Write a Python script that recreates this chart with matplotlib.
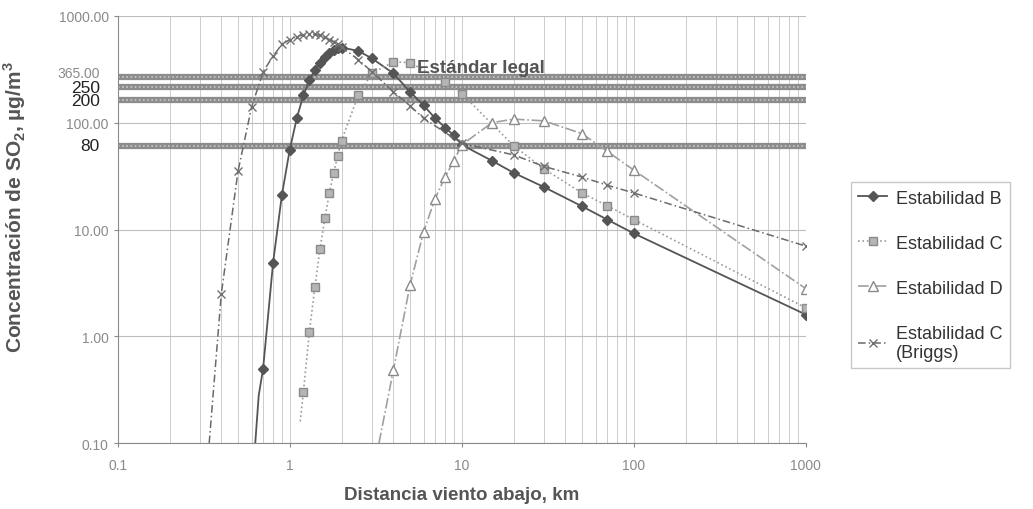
import matplotlib
matplotlib.use("Agg")
import matplotlib.pyplot as plt

plt.rcParams["font.family"] = ["Liberation Sans", "DejaVu Sans"]
plt.rcParams["mathtext.fontset"] = "custom"
plt.rcParams["mathtext.rm"] = "Liberation Sans"
plt.rcParams["mathtext.bf"] = "Liberation Sans:bold"

# Estabilidad B
x_b = [0.63, 0.66, 0.7, 0.8, 0.9, 1.0, 1.1, 1.2, 1.3, 1.4, 1.5, 1.6, 1.7, 1.8, 1.9, 2.0,
       2.5, 3, 4, 5, 6, 7, 8, 9, 10, 15, 20, 30, 50, 70, 100, 1000]
y_b = [0.1, 0.28, 0.5, 4.9, 21, 56, 111, 180, 250, 310, 360, 410, 450, 480, 500, 505,
       470, 400, 290, 195, 145, 110, 90, 76, 62, 44, 34, 25, 16.5, 12.4, 9.2, 1.6]

# Estabilidad C
x_c = [1.15, 1.2, 1.3, 1.4, 1.5, 1.6, 1.7, 1.8, 1.9, 2.0, 2.5, 3, 4, 5, 8, 10,
       20, 30, 50, 70, 100, 1000]
y_c = [0.16, 0.3, 1.1, 2.9, 6.6, 12.7, 22, 34, 49, 68, 180, 290, 370, 365, 240, 187,
       61, 37, 22, 16.7, 12.4, 1.85]

# Estabilidad D
x_d = [3.3, 4, 5, 6, 7, 8, 9, 10, 15, 20, 30, 50, 70, 100, 1000]
y_d = [0.1, 0.48, 3.0, 9.5, 19.5, 31, 44, 62, 100, 108, 104, 79, 54, 36, 2.8]

# Estabilidad C (Briggs)
x_g = [0.34, 0.4, 0.5, 0.6, 0.7, 0.8, 0.9, 1.0, 1.1, 1.2, 1.3, 1.4, 1.5, 1.6, 1.7,
       1.8, 1.9, 2.0, 2.5, 3, 4, 5, 6, 10, 20, 30, 50, 70, 100, 1000]
y_g = [0.1, 2.5, 35, 140, 300, 420, 540, 600, 640, 665, 675, 670, 655, 630, 600,
       570, 540, 510, 390, 300, 195, 144, 110, 64, 50, 39, 31, 26, 22, 7.0]

# Estándar legal (posición) y sus etiquetas
std_pos = [269, 217, 164, 61]
std_txt = ["365.00", "250", "200", "80"]
std_col = ["#8a8a8a", "#222222", "#222222", "#222222"]
std_lab_pos = [290, 212, 160, 61]

y_ticks = [0.1, 1, 10, 100, 1000]
y_ticklabels = ["0.10", "1.00", "10.00", "100.00", "1000.00"]
x_ticks = [0.1, 1, 10, 100, 1000]
x_ticklabels = ["0.1", "1", "10", "100", "1000"]

fig = plt.figure(figsize=(10.33, 5.10), dpi=100)
ax = fig.add_axes([0.114, 0.129, 0.666, 0.838])
ax.set_xscale("log")
ax.set_yscale("log")
ax.set_xlim(0.1, 1000)
ax.set_ylim(0.1, 1000)

# rejilla
ax.grid(True, which="major", axis="y", color="#bdbdbd", lw=0.8)
ax.grid(True, which="both", axis="x", color="#cccccc", lw=0.7)

# líneas del estándar legal
for v in std_pos:
    ax.axhline(v, color="#8c8c8c", lw=4.5, zorder=2)
    ax.axhline(v, color="#c9c9c9", lw=1.2, ls=(0, (1, 1.5)), zorder=2.1)

ax.plot(x_b, y_b, color="#555555", lw=1.3, marker="D", ms=5.5, mfc="#555555",
        mec="#555555", markevery=slice(2, None), label="Estabilidad B", zorder=4)
ax.plot(x_c, y_c, color="#9a9a9a", lw=1.2, ls=":", marker="s", ms=6, mfc="#b5b5b5",
        mec="#8a8a8a", markevery=slice(1, None), label="Estabilidad C", zorder=4)
ax.plot(x_d, y_d, color="#a0a0a0", lw=1.2, ls="-.", marker="^", ms=7, mfc="white",
        mec="#8a8a8a", markevery=slice(1, None), label="Estabilidad D", zorder=4)
ax.plot(x_g, y_g, color="#6a6a6a", lw=1.1, ls=(0, (5, 2, 1, 2)), marker="x", ms=6,
        mec="#707070", markevery=slice(1, None), label="Estabilidad C\n(Briggs)", zorder=4)

ax.text(5.5, 325, "Estándar legal", fontsize=13.5, fontweight="bold", color="#555555",
        va="center", ha="left", zorder=5)

ax.set_yticks(y_ticks)
ax.set_yticklabels(y_ticklabels)
ax.set_xticks(x_ticks)
ax.set_xticklabels(x_ticklabels)
ax.minorticks_off()
ax.set_xticks([m * d for d in [0.1, 1, 10, 100] for m in range(2, 10)], minor=True)
ax.tick_params(axis="x", which="minor", length=0)
ax.tick_params(colors="#8a8a8a", labelsize=10, length=3)
ax.tick_params(axis="x", pad=8)

for v, t, c in zip(std_lab_pos, std_txt, std_col):
    fs = 10 if t == "365.00" else 12.5
    ax.text(-0.026, v, t, transform=ax.get_yaxis_transform(), ha="right", va="center",
            fontsize=fs, color=c)

for s in ["top", "right"]:
    ax.spines[s].set_visible(False)
for s in ["left", "bottom"]:
    ax.spines[s].set_color("#8a8a8a")

ax.set_xlabel("Distancia viento abajo, km", fontsize=13.5, fontweight="bold",
              color="#555555")
ax.xaxis.set_label_coords(0.5, -0.1)
ax.set_ylabel("Concentración de SO$_\\mathbf{2}$, µg/m$^\\mathbf{3}$", fontsize=15,
              fontweight="bold", color="#555555")
ax.yaxis.set_label_coords(-0.13, 0.555)

leg = fig.legend(loc="upper left", bbox_to_anchor=(0.815, 0.658), fontsize=13,
                 frameon=True, fancybox=False, edgecolor="#bbbbbb", labelspacing=1.55,
                 handlelength=1.6, handletextpad=0.5, borderpad=0.4)
for t in leg.get_texts():
    t.set_color("#333333")

fig.savefig("out.png", dpi=100)
